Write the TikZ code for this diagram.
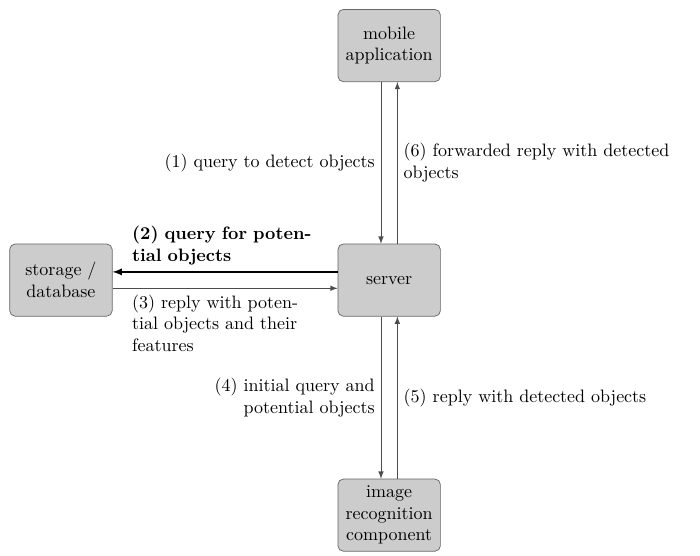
\documentclass[tikz,border=0pt]{standalone}
\usepackage{amsmath}
\usepackage{tikz}
\usetikzlibrary{positioning, arrows}

\begin{document}
\begin{tikzpicture}[
    unit/.style={draw=black!60, fill=black!20, rounded corners=3pt, align=center,
        minimum width=2cm, minimum height=1.41cm, inner sep=2pt},
    msg/.style={draw=black!70, text=black, -latex},
    bigmsg/.style={draw=black, thick, -latex}]
    \def\gap{0.16cm}
    \useasboundingbox (0,0) rectangle (13.67,10.84);
    \node[unit] (app) at (7.6,9.95) {mobile\\application};
    \node[unit] (srv) at (7.6,5.37) {server};
    \node[unit] (db) at (1.19,5.37) {storage /\\database};
    \node[unit] (img) at (7.6,0.78) {image\\recognition\\component};

    % app <-> server
    \draw[msg] ([xshift=-\gap]app.south) -- node[left, align=right]{(1) query to detect objects} ([xshift=-\gap]srv.north);
    \draw[msg] ([xshift=\gap]srv.north) -- node[right, align=left]{(6) forwarded reply with detected\\objects} ([xshift=\gap]app.south);

    % server <-> storage
    \draw[bigmsg] ([yshift=\gap]srv.west) -- node[above, text width=3.63cm, align=left, font=\bfseries]{(2) query for poten-\\tial objects} ([yshift=\gap]db.east);
    \draw[msg] ([yshift=-\gap]db.east) -- node[below, text width=3.63cm, align=left]{(3) reply with poten-\\tial objects and their\\features} ([yshift=-\gap]srv.west);

    % server <-> image recognition
    \draw[msg] ([xshift=-\gap]srv.south) -- node[left, align=right]{(4) initial query and\\potential objects} ([xshift=-\gap]img.north);
    \draw[msg] ([xshift=\gap]img.north) -- node[right, align=left]{(5) reply with detected objects} ([xshift=\gap]srv.south);
\end{tikzpicture}
\end{document}
